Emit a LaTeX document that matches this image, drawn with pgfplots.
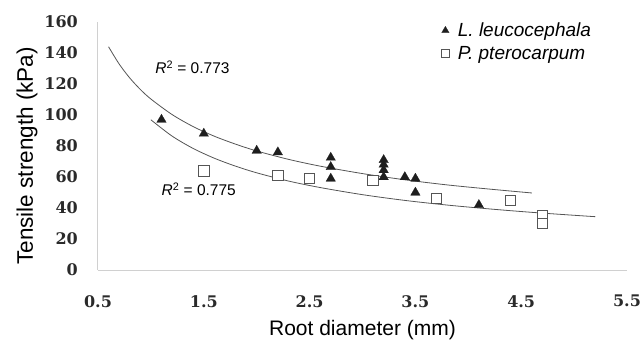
\documentclass[border=0pt]{standalone}
\usepackage{pgfplots}
\pgfplotsset{compat=1.18}
\usepackage{fontspec}
\setmainfont{Liberation Sans}
\newfontfamily\tickfont{DejaVu Serif}
\definecolor{axgray}{HTML}{D0D0D0}
\definecolor{trend}{HTML}{555555}
\definecolor{mk}{HTML}{1E1E1E}
\definecolor{sq}{HTML}{555555}
\definecolor{tick}{HTML}{2A2A2A}
\begin{document}
\begin{tikzpicture}
\path[use as bounding box] (-98pt,-70pt) rectangle (544pt,270pt);
\begin{axis}[
  at={(0,0)}, anchor=south west,
  width=529pt, height=248pt, scale only axis,
  xmin=0.5, xmax=5.5, ymin=0, ymax=160,
  xtick={0.5,1.5,2.5,3.5,4.5,5.5},
  ytick={0,20,...,160},
  axis x line*=bottom, axis y line*=left,
  axis line style={axgray, line width=1pt, -},
  major tick length=0pt,
  /pgf/number format/assume math mode=true,
  /pgf/number format/fixed,
  xticklabel style={font=\tickfont\bfseries\fontsize{16}{18}\selectfont, text=tick, anchor=north, inner sep=0pt, yshift=-25pt},
  yticklabel style={font=\tickfont\bfseries\fontsize{16}{18}\selectfont, text=tick, anchor=east, inner sep=0pt, xshift=-20pt},
  xlabel={Root diameter (mm)},
  ylabel={Tensile strength (kPa)},
  xlabel style={at={([yshift=-65pt]axis description cs:0.5,0)}, anchor=base, font=\fontsize{21}{24}\selectfont, inner sep=0pt},
  ylabel style={at={([xshift=-65pt]axis description cs:0,0.46)}, anchor=base, font=\fontsize{22.5}{26}\selectfont, inner sep=0pt},
  legend style={at={(axis cs:3.725,160.5)}, anchor=north west, draw=none, fill=none,
    font=\itshape\fontsize{19}{21}\selectfont, row sep=5pt, inner sep=0pt,
    nodes={inner sep=1.5pt}},
  legend cell align=left,
  legend image code/.code={\path[draw=none, fill=none] (0pt,-3pt) rectangle (17pt,3pt); \draw[#1] plot coordinates {(6pt,0pt)};},
]
% power trend lines
\addplot[trend, line width=0.8pt, smooth, forget plot] coordinates {
 (0.6,144.0) (0.7,132.9) (0.8,123.9) (0.9,116.5) (1.0,110.3) (1.2,100.3)
 (1.4,92.5) (1.6,86.3) (1.8,81.2) (2.0,76.8) (2.3,71.4) (2.6,67.0)
 (3.0,62.2) (3.4,58.2) (3.8,54.9) (4.2,52.2) (4.6,49.7)};
\addplot[trend, line width=0.8pt, smooth, forget plot] coordinates {
 (1.0,96.9) (1.2,86.4) (1.4,78.4) (1.6,72.1) (1.8,67.0) (2.0,62.7)
 (2.3,57.4) (2.6,53.2) (3.0,48.6) (3.4,44.9) (3.8,41.9) (4.2,39.4)
 (4.6,37.2) (5.0,35.3) (5.2,34.4)};
% L. leucocephala
\addplot[only marks, mark=triangle*, mark size=5.5pt, mark options={fill=mk, draw=mk, line width=0.2pt},
  legend image post style={mark size=4.3pt}] coordinates {
 (1.1,97) (1.5,88) (2.0,77) (2.2,76) (2.7,72.5) (2.7,66.5) (2.7,59)
 (3.2,71) (3.2,68) (3.2,64.5) (3.2,60) (3.4,60) (3.5,59) (3.5,50) (4.1,42)};
\addlegendentry{L. leucocephala}
% P. pterocarpum
\addplot[only marks, mark=square*, mark size=5.2pt, mark options={fill=white, draw=sq, line width=0.9pt},
  legend image post style={mark size=4pt, mark options={fill=white, draw=sq, line width=0.8pt}}] coordinates {
 (1.5,64) (2.2,61) (2.5,59) (3.1,57.8) (3.7,46) (4.4,44.7) (4.7,35) (4.7,30)};
\addlegendentry{P. pterocarpum}
\node[anchor=base west, inner sep=0pt, font=\fontsize{15.5}{18}\selectfont] at (axis cs:1.04,126.5) {\textit{R}\textsuperscript{2} = 0.773};
\node[anchor=base west, inner sep=0pt, font=\fontsize{15.5}{18}\selectfont] at (axis cs:1.10,47.9) {\textit{R}\textsuperscript{2} = 0.775};
\end{axis}
\end{tikzpicture}
\end{document}
